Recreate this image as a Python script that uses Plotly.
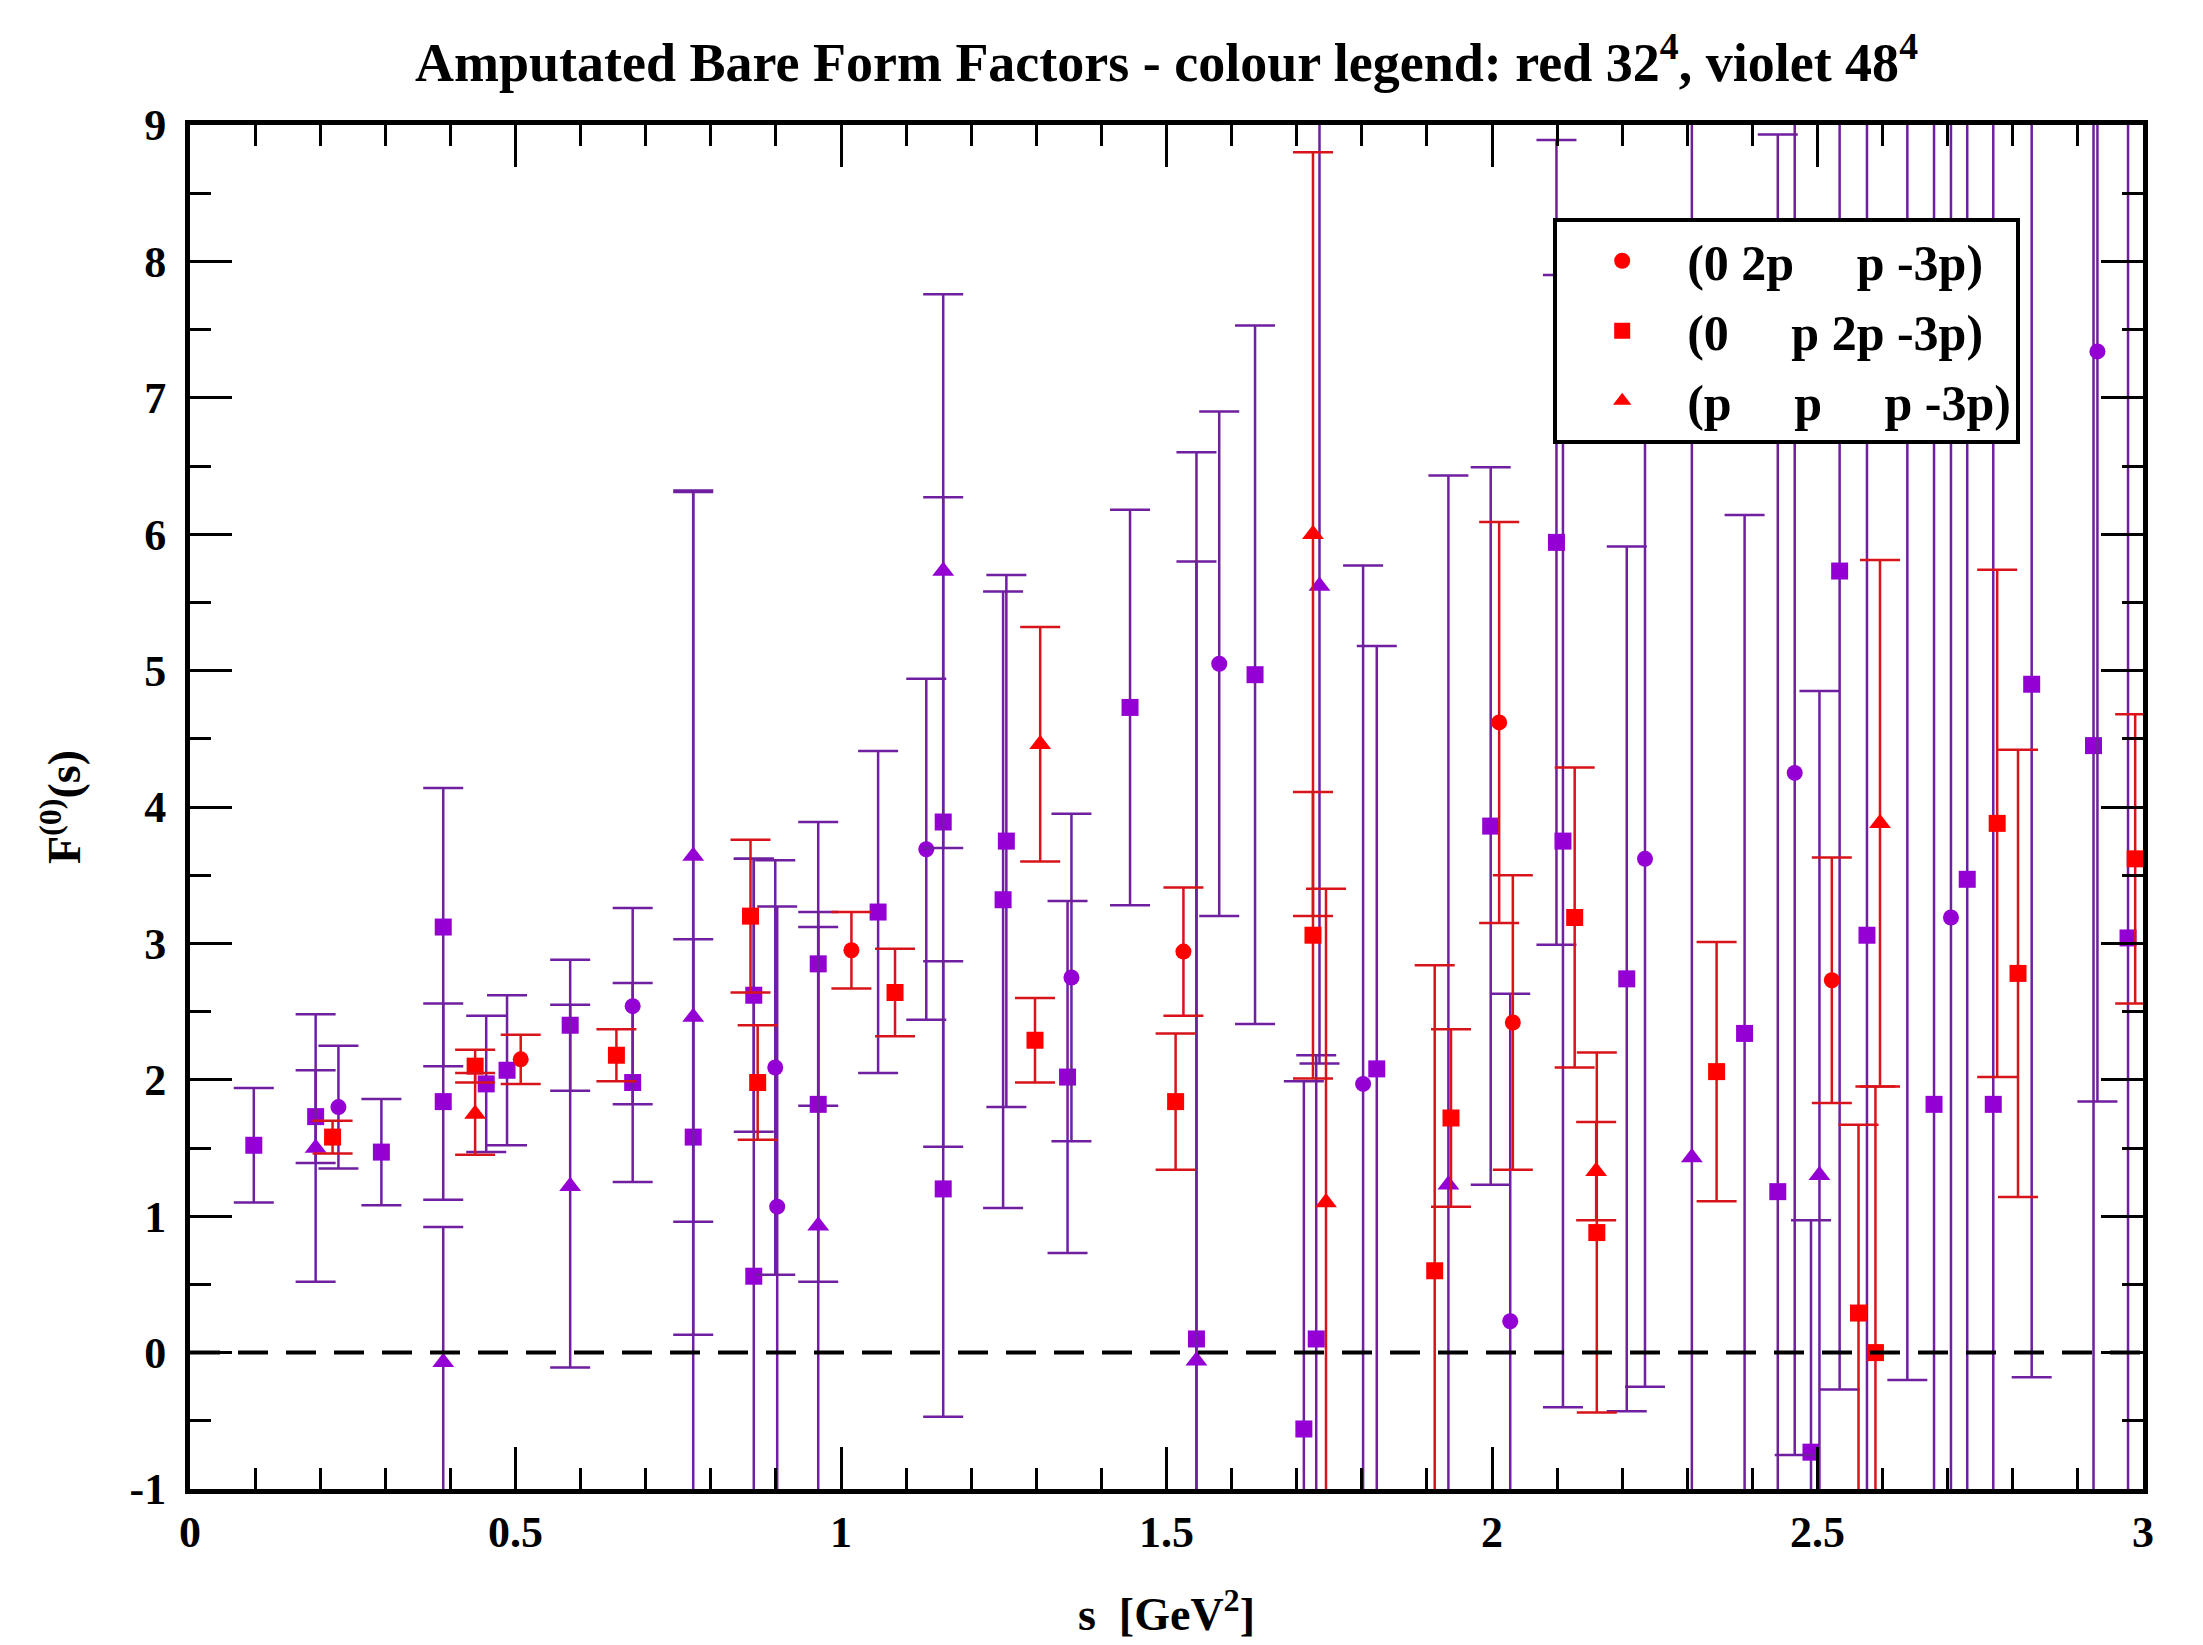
import plotly.graph_objects as go

# ---------------- data ----------------
# red = 32^4 lattice, violet = 48^4 lattice
red_circ_s   = [0.508, 1.016, 1.526, 2.011, 2.032, 2.522]
red_circ_F   = [2.15, 2.95, 2.94, 4.62, 2.42, 2.73]
red_circ_err = [0.18, 0.28, 0.47, 1.47, 1.08, 0.90]

red_sq_s   = [0.219, 0.438, 0.655, 0.861, 0.872, 1.083, 1.298, 1.514, 1.725, 1.912,
              1.937, 2.127, 2.161, 2.345, 2.563, 2.589, 2.776, 2.808, 2.988]
red_sq_F   = [1.58, 2.10, 2.18, 3.20, 1.98, 2.64, 2.29, 1.84, 3.06, 0.60,
              1.72, 3.19, 0.88, 2.06, 0.29, 0.00, 3.88, 2.78, 3.62]
red_sq_err = [0.12, 0.12, 0.19, 0.56, 0.42, 0.32, 0.31, 0.50, 1.05, 2.24,
              0.65, 1.10, 1.32, 0.95, 1.38, 1.95, 1.86, 1.64, 1.06]

red_tri_s   = [0.438, 1.306, 1.725, 1.745, 2.160, 2.596]
red_tri_F   = [1.75, 4.46, 6.00, 1.10, 1.33, 3.88]
red_tri_err = [0.30, 0.86, 2.80, 2.30, 0.36, 1.93]

vio_circ_s   = [0.228, 0.680, 0.899, 0.902, 1.131, 1.354, 1.581, 1.802, 2.028,
                2.235, 2.465, 2.638, 2.705, 2.930]
vio_circ_F   = [1.80, 2.54, 2.09, 1.07, 3.69, 2.75, 5.05, 1.97, 0.23,
                3.62, 4.25, 9.60, 3.19, 7.34]
vio_circ_err = [0.45, 0.72, 1.52, 2.20, 1.25, 1.20, 1.85, 3.80, 2.40,
                3.87, 5.00, 9.80, 6.00, 5.50]

vio_sq_s   = [0.098, 0.193, 0.294, 0.389, 0.389, 0.455, 0.487, 0.584, 0.680, 0.773,
              0.866, 0.866, 0.965, 0.965, 1.057, 1.157, 1.157, 1.249, 1.254, 1.348,
              1.444, 1.546, 1.636, 1.711, 1.730, 1.823, 1.998, 2.099, 2.109, 2.207,
              2.388, 2.439, 2.490, 2.534, 2.576, 2.679, 2.730, 2.770, 2.829, 2.924, 2.977]
vio_sq_F   = [1.52, 1.73, 1.47, 3.12, 1.84, 1.97, 2.07, 2.40, 1.98, 1.58,
              2.62, 0.56, 2.85, 1.82, 3.23, 3.89, 1.20, 3.32, 3.75, 2.02,
              4.73, 0.10, 4.97, -0.56, 0.10, 2.08, 3.86, 5.94, 3.75, 2.74,
              2.34, 1.18, -0.73, 5.73, 3.06, 1.82, 3.47, 1.82, 4.90, 4.45, 3.04]
vio_sq_err = [0.42, 0.34, 0.39, 1.02, 0.72, 0.50, 0.55, 0.48, 0.73, 1.45,
              1.00, 3.06, 1.04, 1.30, 1.18, 2.38, 1.67, 2.26, 1.95, 1.29,
              1.45, 6.50, 2.56, 2.55, 2.08, 3.10, 2.63, 2.95, 4.15, 3.17,
              3.80, 7.75, 1.70, 6.00, 7.00, 9.00, 6.00, 8.00, 5.08, 6.00, 6.50]

vio_tri_s   = [0.193, 0.389, 0.584, 0.773, 0.773, 0.965, 1.157, 1.546, 1.735, 1.933, 2.307, 2.503]
vio_tri_F   = [1.50, -0.07, 1.22, 3.64, 2.46, 0.93, 5.73, -0.06, 5.62, 1.23, 1.43, 1.30]
vio_tri_err = [0.98, 0.99, 1.33, 2.68, 3.85, 2.30, 2.03, 5.86, 3.50, 5.20, 9.00, 3.55]

legend_names = ["(0 2p     p -3p)", "(0     p 2p -3p)", "(p     p     p -3p)"]

x_tickvals = [0, 0.5, 1, 1.5, 2, 2.5, 3]
x_ticktext = ["0", "0.5", "1", "1.5", "2", "2.5", "3"]
y_tickvals = list(range(-1, 10))
y_ticktext = [str(v) for v in y_tickvals]

# ---------------- styling ----------------
RED = "#ff0000"
RED_BAR = "#d8141a"
VIO = "#9400d3"
VIO_BAR = "#6f1fa0"
FONT = "Liberation Serif"

fig = go.Figure()

def add(s, F, err, symbol, size, color, barcolor, name=None, show=False, rank=None):
    fig.add_trace(go.Scatter(
        x=s, y=F, mode="markers",
        name=(name.replace(" ", "\u00a0") if name else None),
        showlegend=show,
        legendrank=rank if rank else 1000,
        legendgroup=name if name else None,
        marker=dict(symbol=symbol, size=size, color=color, line=dict(width=0)),
        error_y=dict(type="data", array=err, visible=True, color=barcolor,
                     thickness=2.5, width=20),
    ))

# violet first, red on top
add(vio_sq_s, vio_sq_F, vio_sq_err, "square", 17, VIO, VIO_BAR)
add(vio_circ_s, vio_circ_F, vio_circ_err, "circle", 16, VIO, VIO_BAR)
add(vio_tri_s, vio_tri_F, vio_tri_err, "triangle-up", 19, VIO, VIO_BAR)
add(red_circ_s, red_circ_F, red_circ_err, "circle", 16, RED, RED_BAR, legend_names[0], True, 1)
add(red_sq_s, red_sq_F, red_sq_err, "square", 17, RED, RED_BAR, legend_names[1], True, 2)
add(red_tri_s, red_tri_F, red_tri_err, "triangle-up", 19, RED, RED_BAR, legend_names[2], True, 3)

# dashed zero line
fig.add_shape(type="line", xref="x", yref="y", x0=0, x1=3, y0=0, y1=0,
              line=dict(color="black", width=4, dash="30px,18px"))

axis_common = dict(
    showgrid=False, zeroline=False, showline=True, linecolor="black", linewidth=5,
    mirror="allticks", ticks="inside", ticklen=42, tickwidth=3, tickcolor="black",
    tickfont=dict(family=FONT, size=44, color="black", weight="bold"),
)

fig.update_xaxes(
    range=[0, 3], tickvals=x_tickvals, ticktext=x_ticktext,
    minor=dict(dtick=0.1, ticks="inside", ticklen=21, tickwidth=3, tickcolor="black"),
    ticklabelstandoff=0,
    title=dict(text="s  [GeV<sup>2</sup>]", standoff=44,
               font=dict(family=FONT, size=46, color="black", weight="bold")),
    **axis_common,
)
fig.update_yaxes(
    range=[-1, 9], tickvals=y_tickvals, ticktext=y_ticktext,
    minor=dict(dtick=0.5, ticks="inside", ticklen=21, tickwidth=3, tickcolor="black"),
    ticklabelstandoff=10,
    title=dict(text="F<sup>(0)</sup>(s)", standoff=36,
               font=dict(family=FONT, size=46, color="black", weight="bold")),
    **axis_common,
)

fig.update_layout(
    width=2203, height=1645,
    margin=dict(l=190, r=60, t=125, b=156, autoexpand=False),
    paper_bgcolor="white", plot_bgcolor="white",
    title=dict(text="Amputated Bare Form Factors - colour legend: red 32<sup>4</sup>, violet 48<sup>4</sup>",
               x=0.5, xref="paper", xanchor="center", y=0.962, yanchor="middle",
               font=dict(family=FONT, size=54, color="black", weight="bold")),
    legend=dict(x=0.698, y=0.932, xanchor="left", yanchor="top",
                bgcolor="white", bordercolor="black", borderwidth=4,
                font=dict(family=FONT, size=50, color="black", weight="bold"),
                itemwidth=120, traceorder="grouped", tracegroupgap=2,
                itemclick=False),
    showlegend=True,
)

fig.write_html("out.html")
